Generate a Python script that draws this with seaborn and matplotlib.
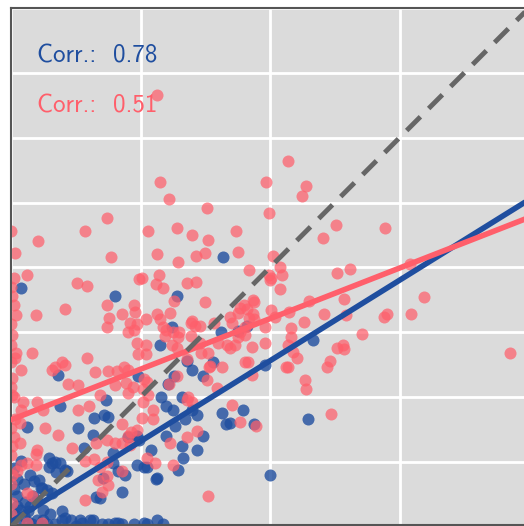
import matplotlib
matplotlib.use("Agg")
import matplotlib.pyplot as plt
import numpy as np
import seaborn as sns

# ---- data (x and y share the same scale) ----
red_x = [
    1.13, 1.15, 1.22, 1.51, 0.74, 0.00, 0.57, 0.21, 0.77, 1.06, 1.28, 1.40, 1.52, 1.74, 1.75, 1.13,
    1.29, 1.43, 1.50, 0.03, 1.97, 2.14, 2.28, 2.25, 1.99, 2.51, 2.41, 2.89, 2.02, 3.19, 3.08, 3.85,
    3.09, 2.88, 2.90, 1.99, 2.08, 2.09, 2.00, 2.08, 2.52, 2.62, 2.30, 2.57, 2.01, 2.15, 2.04, 2.42,
    2.26, 2.59, 1.96, 2.16, 2.16, 2.71, 1.96, 2.14, 2.18, 2.21, 2.14, 2.52, 2.56, 2.57, 2.46, 2.44,
    2.27, 2.28, 2.47, 0.99, 1.01, 1.14, 1.12, 1.17, 1.36, 1.43, 1.26, 1.50, 1.84, 2.01, 1.87, 1.88,
    1.77, 0.95, 0.96, 0.86, 1.04, 1.13, 1.15, 1.23, 1.40, 1.42, 1.39, 1.69, 1.71, 1.75, 1.84, 1.88,
    1.81, 0.92, 0.95, 0.90, 1.17, 1.25, 1.30, 1.29, 1.19, 0.97, 1.04, 0.98, 1.04, 1.24, 1.28, 1.39,
    1.46, 1.52, 1.67, 1.73, 1.86, 1.81, 1.83, 1.53, 1.63, 1.51, 1.59, 1.28, 1.22, 1.03, 0.94, 0.90,
    1.06, 1.37, 2.12, 0.87, 0.12, 0.02, 0.51, 0.59, 0.02, 0.42, 0.74, 0.19, 0.04, 0.76, 0.74, 0.97,
    1.20, 1.46, 1.57, 1.77, 1.75, 1.81, 1.80, 1.82, 1.87, 1.60, 1.69, 1.36, 1.47, 1.54, 1.86, 0.04,
    0.16, 0.32, 0.34, 0.39, 0.42, 0.08, 0.59, 0.44, 0.52, 0.65, 0.75, 0.82, 0.80, 0.69, 0.89, 1.02,
    1.10, 1.02, 1.36, 1.40, 1.71, 1.77, 1.89, 1.44, 1.36, 1.23, 0.03, 0.08, 0.09, 0.07, 0.26, 0.36,
    0.20, 0.25, 0.52, 0.60, 0.47, 0.74, 0.80, 0.90, 0.93, 0.92, 1.11, 1.25, 1.52, 1.05, 0.19, 0.19,
    0.08, 0.05, 0.12, 0.57, 0.64, 0.69, 0.67, 0.74, 0.75, 0.70, 0.57, 0.86, 0.16, 0.90, 1.05, 0.86,
    0.97, 1.01, 1.10, 0.07, 0.02, 0.66, 0.86, 0.20, 0.74, 0.12, 0.12, 0.24,
    0.00, 0.01, 0.00, 0.01, 0.00, 0.00, 0.01, 0.00, 0.01, 0.00, 0.01, 0.00, 0.01, 0.00, 0.01, 0.00,
    0.01, 0.02, 0.03,
]
red_y = [
    3.33, 2.66, 2.53, 2.46, 2.38, 2.28, 2.28, 2.20, 2.08, 2.28, 2.30, 2.25, 2.21, 2.28, 2.12, 2.10,
    2.04, 2.09, 2.11, 2.11, 2.66, 2.82, 2.63, 2.55, 2.42, 2.33, 2.23, 2.30, 2.09, 1.77, 2.03, 1.34,
    1.64, 1.62, 1.64, 1.94, 2.00, 1.94, 1.90, 1.83, 1.96, 1.99, 1.74, 1.76, 1.67, 1.66, 1.62, 1.64,
    1.58, 1.63, 1.54, 1.53, 1.46, 1.49, 1.42, 1.40, 1.35, 1.30, 1.23, 1.38, 1.40, 1.37, 1.28, 1.23,
    1.13, 1.06, 0.87, 1.91, 1.92, 1.94, 1.87, 1.84, 1.88, 1.89, 1.74, 1.73, 1.98, 1.92, 1.75, 1.73,
    1.69, 1.71, 1.66, 1.64, 1.60, 1.64, 1.60, 1.65, 1.59, 1.55, 1.57, 1.62, 1.57, 1.65, 1.61, 1.60,
    1.54, 1.57, 1.52, 1.50, 1.54, 1.50, 1.50, 1.46, 1.47, 1.42, 1.40, 1.33, 1.33, 1.40, 1.38, 1.47,
    1.42, 1.34, 1.40, 1.40, 1.39, 1.27, 1.27, 1.23, 1.23, 1.13, 1.07, 1.16, 1.10, 1.14, 1.08, 1.03,
    1.02, 1.00, 1.23, 1.23, 1.94, 1.92, 1.88, 1.86, 1.71, 1.68, 1.71, 1.63, 1.63, 1.61, 1.54, 1.56,
    1.52, 1.55, 1.57, 1.50, 1.46, 1.48, 1.71, 1.68, 1.64, 1.42, 1.38, 1.29, 1.34, 1.24, 1.17, 1.34,
    1.34, 1.21, 1.23, 1.27, 1.25, 1.21, 1.30, 1.10, 1.09, 1.19, 1.20, 1.20, 1.09, 1.02, 1.11, 1.06,
    0.90, 0.96, 0.98, 0.96, 0.94, 0.81, 0.78, 0.74, 0.69, 0.65, 0.83, 0.90, 0.96, 0.80, 0.76, 0.71,
    0.96, 0.90, 0.90, 0.93, 0.61, 0.67, 0.65, 0.70, 0.73, 0.63, 0.49, 0.48, 0.24, 0.53, 0.56, 0.48,
    0.48, 0.43, 0.49, 0.51, 0.52, 0.46, 0.36, 0.39, 0.32, 0.27, 0.21, 0.43, 0.24, 1.21, 1.12, 0.79,
    0.75, 0.84, 0.83, 0.65, 0.69, 0.65, 0.65, 0.59, 0.50, 0.26, 0.03, 0.03,
    1.85, 1.78, 1.56, 1.48, 1.40, 1.27, 1.15, 1.08, 1.02, 0.76, 0.62, 0.55, 0.40, 0.33, 0.18, 0.10,
    0.04, 1.00, 1.30,
]
blue_x = [
    1.64, 1.28, 0.08, 0.80, 1.24, 1.62, 1.75, 1.15, 1.36, 1.40, 1.48, 1.56, 1.26, 1.21, 0.98, 1.16,
    1.32, 1.96, 2.33, 2.29, 2.00, 1.82, 0.36, 0.73, 1.20, 1.25, 1.40, 1.34, 1.44, 1.27, 1.79, 1.63,
    1.66, 1.69, 1.88, 1.20, 1.32, 1.44, 1.33, 1.48, 0.12, 0.52, 0.64, 0.72, 0.63, 0.56, 0.79, 0.97,
    1.08, 0.97, 1.03, 1.12, 1.29, 0.29, 0.32, 0.38, 0.43, 0.35, 0.08, 0.71, 0.69, 0.86, 0.88, 0.83,
    0.24, 0.28, 0.17, 0.32, 0.11, 0.07, 0.03, 0.15, 0.25, 0.39, 0.39, 0.46, 0.53, 0.61, 0.75, 0.86,
    1.05, 1.13, 1.17, 0.20, 0.25, 0.02, 0.05, 0.38, 0.75, 0.90, 0.99, 0.34, 0.42, 0.29, 0.79, 1.05,
    1.13, 0.23, 0.66, 0.42, 0.63, 0.80, 0.83, 1.03, 0.02, 0.05, 0.10, 0.15, 0.18, 0.22, 0.10, 0.13,
    0.06, 0.30, 0.34, 0.50, 0.16, 0.28, 0.05, 0.20, 0.13, 0.55, 0.70, 0.95,
]
blue_y = [
    2.08, 1.78, 1.84, 1.78, 1.54, 1.50, 1.51, 1.40, 1.28, 1.21, 1.16, 1.27, 1.16, 1.10, 1.16, 1.00,
    1.00, 1.25, 1.44, 0.83, 0.40, 1.55, 1.17, 0.98, 0.93, 0.90, 0.90, 0.83, 0.86, 0.78, 0.90, 0.88,
    0.79, 0.80, 0.79, 0.70, 0.62, 0.59, 0.53, 0.70, 0.77, 0.76, 0.84, 0.86, 0.71, 0.61, 0.57, 0.70,
    0.59, 0.48, 0.46, 0.37, 0.44, 0.53, 0.49, 0.49, 0.43, 0.42, 0.51, 0.38, 0.22, 0.27, 0.40, 0.43,
    0.30, 0.28, 0.24, 0.26, 0.19, 0.13, 0.09, 0.16, 0.13, 0.12, 0.05, 0.05, 0.05, 0.05, 0.02, 0.02,
    0.02, 0.05, 0.02, 0.05, 0.05, 0.29, 0.24, 0.93, 0.85, 0.69, 0.67, 0.50, 0.44, 0.46, 0.49, 0.46,
    0.38, 0.30, 0.23, 0.07, 0.05, 0.03, 0.03, 0.03, 0.45, 0.37, 0.33, 0.40, 0.35, 0.36, 0.08, 0.04,
    0.02, 0.10, 0.02, 0.01, 0.02, 0.02, 0.16, 0.20, 0.12, 0.03, 0.02, 0.02,
]
# fitted lines as drawn in the reference (intercept, slope)
blue_fit = [0.038, 0.621]
red_fit = [0.825, 0.390]
line_x = [0.0, 4.0]
corr_labels = ["Corr.:  0.78", "Corr.:  0.51"]

BLUE = "#1f4e9f"
RED = "#ff5f6b"

sns.set_theme(style="darkgrid", rc={
    "axes.facecolor": "#dbdbdb",
    "grid.color": "white",
    "grid.linewidth": 2.0,
    "axes.edgecolor": "#555555",
    "axes.linewidth": 1.5,
})

fig = plt.figure(figsize=(5.24, 5.26), dpi=100)
ax = fig.add_axes([11 / 524, 1 / 526, 518 / 524, 517 / 526])

# scatter points
sns.regplot(x=blue_x, y=blue_y, ax=ax, fit_reg=False, color=BLUE,
            scatter_kws={"s": 75, "alpha": 0.8, "linewidths": 0})
sns.regplot(x=red_x, y=red_y, ax=ax, fit_reg=False, color=RED,
            scatter_kws={"s": 75, "alpha": 0.72, "linewidths": 0})

# regression lines
blue_line = [blue_fit[0] + blue_fit[1] * v for v in line_x]
red_line = [red_fit[0] + red_fit[1] * v for v in line_x]
sns.lineplot(x=line_x, y=blue_line, ax=ax, color=BLUE, lw=4.0, zorder=4)
sns.lineplot(x=line_x, y=red_line, ax=ax, color=RED, lw=4.0, zorder=5)

# identity line
ax.plot(line_x, line_x, color="#666666", lw=3.5, ls=(0, (4, 2.4)), zorder=6)

ax.text(0.05, 0.895, corr_labels[0], transform=ax.transAxes, color=BLUE,
        fontsize=18, fontfamily="cmss10", zorder=7)
ax.text(0.05, 0.797, corr_labels[1], transform=ax.transAxes, color=RED,
        fontsize=18, fontfamily="cmss10", zorder=7)

ax.set_xticks(np.arange(0, 4.01, 1))
ax.set_yticks(np.arange(0, 4.01, 0.5))
ax.tick_params(length=0, labelbottom=False, labelleft=False)
ax.set_xlim(0, 4)
ax.set_ylim(0.014, 4)
ax.set_xlabel("")
ax.set_ylabel("")

fig.savefig("out.png", dpi=100)
